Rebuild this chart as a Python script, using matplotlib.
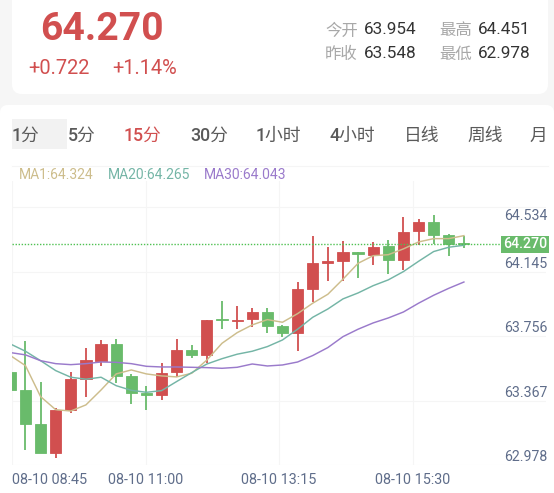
import matplotlib
matplotlib.use("Agg")
import matplotlib.pyplot as plt
from matplotlib.patches import FancyBboxPatch, Rectangle

plt.rcParams['font.family'] = ['Roboto', 'Noto Sans CJK SC', 'DejaVu Sans']

# candles: top of body, bottom of body, high, low
body_top = [63.497, 63.388, 63.185, 63.271, 63.455, 63.569, 63.666, 63.666, 63.473, 63.370, 63.495,
            63.632, 63.632, 63.811, 63.819, 63.815, 63.859, 63.861, 63.779, 64.002, 64.155,
            64.167, 64.226, 64.224, 64.256, 64.258, 64.346, 64.403, 64.403, 64.324, 64.276]
body_bottom = [63.390, 63.187, 63.012, 63.012, 63.269, 63.455, 63.567, 63.477, 63.374, 63.360, 63.358,
               63.497, 63.602, 63.602, 63.811, 63.807, 63.819, 63.779, 63.736, 63.736, 64.002,
               64.159, 64.167, 64.211, 64.207, 64.175, 64.177, 64.348, 64.324, 64.272, 64.270]
highs = [63.497, 63.686, 63.439, 63.279, 63.501, 63.642, 63.690, 63.700, 63.485, 63.412, 63.551,
         63.698, 63.664, 63.811, 63.926, 63.899, 63.883, 63.885, 63.785, 64.040, 64.320,
         64.256, 64.290, 64.224, 64.286, 64.298, 64.433, 64.425, 64.449, 64.332, 64.320]
lows = [63.390, 63.028, 63.012, 62.978, 63.253, 63.350, 63.537, 63.435, 63.308, 63.267, 63.330,
        63.471, 63.581, 63.555, 63.761, 63.759, 63.769, 63.736, 63.712, 63.624, 63.922,
        64.046, 64.050, 64.067, 64.147, 64.091, 64.115, 64.264, 64.272, 64.202, 64.246]
rising = [0, 0, 0, 1, 1, 1, 1, 0, 0, 0, 1, 1, 0, 1, 0, 1, 1, 0, 0, 1, 1, 1, 1, 0, 1, 0, 1, 1, 0, 0, 0]

ma1 = [63.598, 63.537, 63.350, 63.271, 63.263, 63.300, 63.390, 63.487, 63.511, 63.487, 63.475,
       63.469, 63.491, 63.571, 63.672, 63.736, 63.783, 63.815, 63.799, 63.851, 63.914,
       63.968, 64.059, 64.155, 64.201, 64.207, 64.242, 64.284, 64.304, 64.304, 64.322]
ma20 = [63.668, 63.624, 63.567, 63.507, 63.467, 63.455, 63.467, 63.416, 63.388, 63.376, 63.386,
        63.441, 63.495, 63.547, 63.579, 63.606, 63.624, 63.652, 63.692, 63.757, 63.829,
        63.879, 63.940, 63.976, 64.020, 64.055, 64.105, 64.167, 64.226, 64.252, 64.264]
ma30 = [63.616, 63.602, 63.567, 63.549, 63.543, 63.549, 63.559, 63.557, 63.549, 63.533, 63.529,
        63.529, 63.527, 63.525, 63.521, 63.527, 63.547, 63.535, 63.541, 63.559, 63.598,
        63.646, 63.712, 63.757, 63.795, 63.825, 63.861, 63.914, 63.962, 64.004, 64.042]

grid_prices = [62.937, 63.326, 63.716, 64.103, 64.495]
price_labels = ["62.978", "63.367", "63.756", "64.145", "64.534"]
time_ticks = [0.11, 8.95, 17.78, 26.62]
time_labels = ["08-10 08:45", "08-10 11:00", "08-10 13:15", "08-10 15:30"]
last_price = 64.270

tabs = ["1分", "5分", "15分", "30分", "1小时", "4小时", "日线", "周线", "月"]
tab_x = [12, 68, 124, 190, 256, 330, 404, 467, 530]

RED = '#d14f4f'
GREEN = '#69bb6b'
TAN = '#cdbd8c'
TEAL = '#74b5a6'
PURPLE = '#9a7acb'
AXIS_TEXT = '#5f6d8a'
GRID = '#f5f5f5'

W, H = 554, 493
fig = plt.figure(figsize=(W / 100, H / 100), dpi=100, facecolor='#f6f6f6')

# page layer, in pixels
bg = fig.add_axes([0, 0, 1, 1])
bg.set_xlim(0, W)
bg.set_ylim(H, 0)
bg.axis('off')
bg.add_patch(FancyBboxPatch((12, -30), 536, 124, boxstyle="round,pad=0,rounding_size=10", fc='white', ec='none'))
bg.add_patch(FancyBboxPatch((0, 105), W, 420, boxstyle="round,pad=0,rounding_size=8", fc='white', ec='none'))
bg.add_patch(Rectangle((12, 119), 55, 30, fc='#f2f2f2', ec='none'))
bg.plot([12, 548], [166, 166], color=GRID, lw=0.8)

bg.text(40, 29, "64.270", color=RED, fontsize=28.2, fontweight='bold', va='center')
bg.text(28, 69, "+0.722", color=RED, fontsize=14.4, va='center')
bg.text(112, 69, "+1.14%", color=RED, fontsize=14.4, va='center')
for x, y, name, val in [(325, 31, "今开", "63.954"), (325, 54, "昨收", "63.548"),
                        (439, 31, "最高", "64.451"), (439, 54, "最低", "62.978")]:
    bg.text(x, y, name, color='#a8a8a8', fontsize=11.8, va='center')
    bg.text(x + 39, y - 1, val, color='#333333', fontsize=12.3, va='center')
for x, label in zip(tab_x, tabs):
    bg.text(x, 136, label, color=RED if label == "15分" else '#5a5a5a', fontsize=12.8,
            fontweight='medium', va='center')
bg.text(19, 175, "MA1:64.324", color=TAN, fontsize=10, va='center')
bg.text(108, 175, "MA20:64.265", color=TEAL, fontsize=10, va='center')
bg.text(204, 175, "MA30:64.043", color=PURPLE, fontsize=10, va='center')
bg.set_zorder(0)

# chart, pixel box 12..546 x 181..465
ax = fig.add_axes([12 / W, 1 - 465 / H, 534 / W, 284 / H], facecolor='none')
ax.set_zorder(1)
ax.set_xlim(0.11, 35.43)
ax.set_ylim(62.937, 64.652)
for s in ax.spines.values():
    s.set_visible(False)
ax.set_yticks(grid_prices)
ax.set_yticklabels([])
ax.set_xticks(time_ticks)
ax.set_xticklabels(time_labels, color=AXIS_TEXT, fontsize=10.4)
ax.get_xticklabels()[0].set_ha('left')
ax.tick_params(length=0, pad=5.5)
ax.grid(True, color=GRID, lw=0.8)
ax.set_axisbelow(True)

xs = list(range(len(body_top)))
colors = [RED if r else GREEN for r in rising]
ax.vlines(xs, lows, highs, colors=colors, lw=1.3, zorder=2)
ax.bar(xs, [t - b for t, b in zip(body_top, body_bottom)], bottom=body_bottom, width=0.74,
       color=colors, edgecolor=colors, lw=0.6, zorder=3)

ax.plot(xs, ma1, color=TAN, lw=1.05, zorder=4)
ax.plot(xs, ma20, color=TEAL, lw=1.05, zorder=4)
ax.plot(xs, ma30, color=PURPLE, lw=1.05, zorder=4)

# last price line and its tag
ax.plot([0.11, 32.7], [last_price, last_price], color='#4fc152', lw=1, ls=(0, (1, 1.2)), zorder=5)
for p, label in zip(grid_prices, price_labels):
    offset = -9 if p == grid_prices[-1] else 8
    ax.annotate(label, xy=(1.002, p), xycoords=ax.get_yaxis_transform(), xytext=(0, offset * 0.72),
                textcoords='offset points', ha='right', va='center', color=AXIS_TEXT, fontsize=10.2,
                annotation_clip=False)
ax.annotate("64.270", xy=(1.002, last_price), xycoords=ax.get_yaxis_transform(), ha='right', va='center',
            color='white', fontsize=10.2, fontweight='medium', annotation_clip=False, zorder=7,
            bbox=dict(fc=GREEN, ec='none', pad=1.2))

fig.savefig("out.png", dpi=100, facecolor=fig.get_facecolor())
